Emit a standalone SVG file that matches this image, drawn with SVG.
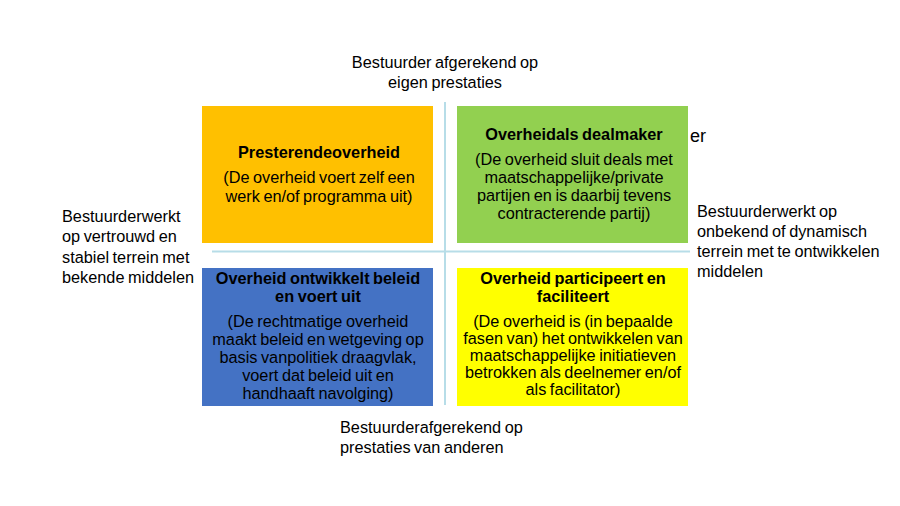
<svg xmlns="http://www.w3.org/2000/svg" width="900" height="506" viewBox="0 0 900 506">
<style>
text{font-family:"Liberation Sans",Arial,sans-serif;font-size:16.3px;fill:#000;word-spacing:-1px}
.t{font-weight:bold}
.c{text-anchor:middle}
.ax{stroke:#b7dde8;stroke-width:2;fill:none}
</style>
<rect width="900" height="506" fill="#fff"/>
<g id="axes">
<line class="ax" x1="445" y1="102" x2="445" y2="405"/>
<line class="ax" x1="212" y1="251.5" x2="690" y2="251.5"/>
</g>
<g id="presterende">
<rect x="202" y="106" width="231" height="137" fill="#FFC000"/>
<text class="c t" x="319" y="158">Presterendeoverheid</text>
<text class="c" x="319" y="183">(De overheid voert zelf een</text>
<text class="c" x="319" y="202">werk en/of programma uit)</text>
</g>
<g id="dealmaker">
<rect x="457" y="106" width="231" height="137" fill="#92D050"/>
<text class="c t" x="574" y="140">Overheidals dealmaker</text>
<text class="c" x="574" y="165">(De overheid sluit deals met</text>
<text class="c" x="574" y="183">maatschappelijke/private</text>
<text class="c" x="574" y="201">partijen en is daarbij tevens</text>
<text class="c" x="574" y="219">contracterende partij)</text>
</g>
<g id="beleid">
<rect x="202" y="268" width="231" height="138" fill="#4472C4"/>
<text class="c t" x="318" y="284">Overheid ontwikkelt beleid</text>
<text class="c t" x="318" y="302">en voert uit</text>
<text class="c" x="318" y="327">(De rechtmatige overheid</text>
<text class="c" x="318" y="345">maakt beleid en wetgeving op</text>
<text class="c" x="318" y="363">basis vanpolitiek draagvlak,</text>
<text class="c" x="318" y="381">voert dat beleid uit en</text>
<text class="c" x="318" y="399">handhaaft navolging)</text>
</g>
<g id="participeert">
<rect x="457" y="268" width="231" height="138" fill="#FFFF00"/>
<text class="c t" x="573" y="284">Overheid participeert en</text>
<text class="c t" x="573" y="302">faciliteert</text>
<text class="c" x="573" y="327">(De overheid is (in bepaalde</text>
<text class="c" x="573" y="344">fasen van) het ontwikkelen van</text>
<text class="c" x="573" y="361">maatschappelijke initiatieven</text>
<text class="c" x="573" y="378">betrokken als deelnemer en/of</text>
<text class="c" x="573" y="395">als facilitator)</text>
</g>
<g id="labels">
<text class="c" x="445" y="68">Bestuurder afgerekend op</text>
<text class="c" x="445" y="88">eigen prestaties</text>
<text x="340" y="433">Bestuurderafgerekend op</text>
<text x="340" y="453">prestaties van anderen</text>
<text x="62" y="222">Bestuurderwerkt</text>
<text x="62" y="242">op vertrouwd en</text>
<text x="62" y="263">stabiel terrein met</text>
<text x="62" y="283">bekende middelen</text>
<text x="697" y="217">Bestuurderwerkt op</text>
<text x="697" y="237">onbekend of dynamisch</text>
<text x="697" y="257">terrein met te ontwikkelen</text>
<text x="697" y="277">middelen</text>
<text x="690" y="142" style="font-size:18px">er</text>
</g>
</svg>
